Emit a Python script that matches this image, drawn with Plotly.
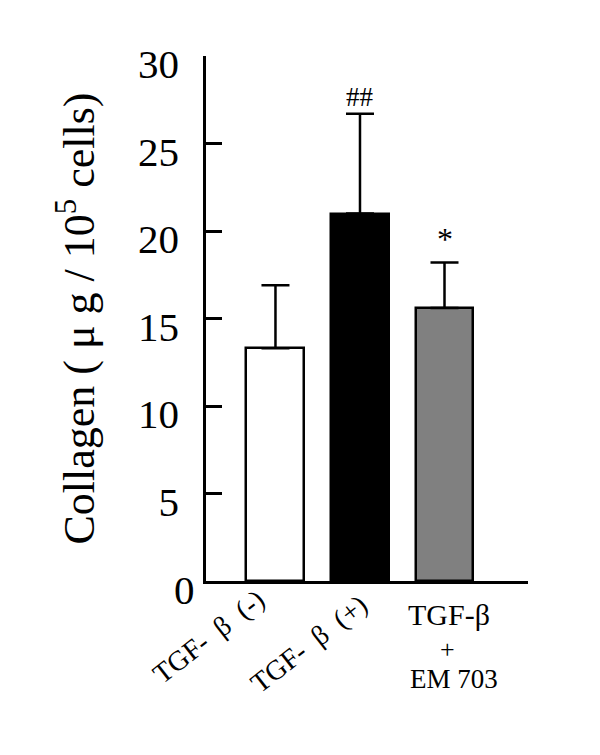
import plotly.graph_objects as go

categories = ["TGF-β (-)", "TGF-β (+)", "TGF-β + EM 703"]
means = [13.3, 21.0, 15.6]
errors = [3.6, 5.7, 2.6]
bar_colors = ["#ffffff", "#000000", "#808080"]
sig_marks = ["", "##", "*"]
ytick_vals = [5, 10, 15, 20, 25, 30]
ytick_text = ["5", "10", "15", "20", "25", "30"]

SERIF = "Liberation Serif, Times New Roman, serif"

fig = go.Figure()
fig.add_trace(go.Bar(
    x=list(range(len(categories))),
    y=means,
    width=0.686,
    marker=dict(color=bar_colors, line=dict(color="#000000", width=2.5)),
    error_y=dict(type="data", array=errors, arrayminus=[0] * len(errors),
                 symmetric=False, color="#000000", thickness=2.5, width=14),
    showlegend=False,
))

annotations = []
# significance marks
for i, (m, e, s) in enumerate(zip(means, errors, sig_marks)):
    if s:
        annotations.append(dict(
            x=i, y=m + e, xref="x", yref="y", text=s, showarrow=False,
            xanchor="center", yanchor="bottom",
            yshift=0 if s == "##" else 4,
            font=dict(family=SERIF, size=27 if s == "##" else 32, color="#000"),
        ))

# rotated category labels
rot_labels = ["TGF-\u2002β\u2002(-)", "TGF-\u2002β\u2002(+)"]
rot_shift = [(-67, -55), (-51, -62)]
for i, (t, (dx, dy)) in enumerate(zip(rot_labels, rot_shift)):
    annotations.append(dict(
        x=i, y=0, xref="x", yref="paper", text=t, showarrow=False,
        textangle=-38, xanchor="center", yanchor="middle",
        xshift=dx, yshift=dy,
        font=dict(family=SERIF, size=28, color="#000"),
    ))

# third label, stacked lines
third_lines = ["TGF-β", "+", "EM 703"]
third_sizes = [30, 26, 27]
third_shift = [(4, -33), (3, -68), (9, -98)]
for t, fs, (dx, dy) in zip(third_lines, third_sizes, third_shift):
    annotations.append(dict(
        x=2, y=0, xref="x", yref="paper", text=t, showarrow=False,
        xanchor="center", yanchor="middle", xshift=dx, yshift=dy,
        font=dict(family=SERIF, size=fs, color="#000"),
    ))

# zero tick label (offset as in reference)
annotations.append(dict(
    x=0, y=0, xref="paper", yref="y", text="0", showarrow=False,
    xanchor="center", yanchor="middle", xshift=-22, yshift=-9,
    font=dict(family=SERIF, size=41, color="#000"),
))

fig.update_layout(
    width=600, height=755,
    margin=dict(l=198, r=80, t=48, b=182),
    paper_bgcolor="white", plot_bgcolor="white",
    annotations=annotations,
    bargap=0,
)
fig.update_xaxes(
    range=[-0.822, 2.988], showticklabels=False, ticks="",
    showline=True, linecolor="#000", linewidth=3, showgrid=False, zeroline=False,
)
fig.update_yaxes(
    range=[0, 30], tickvals=ytick_vals, ticktext=ytick_text,
    ticks="inside", ticklen=16, tickwidth=2.5, tickcolor="#000",
    ticklabelstandoff=16, ticklabelshift=8,
    showline=True, linecolor="#000", linewidth=2.5, showgrid=False, zeroline=False,
    tickfont=dict(family=SERIF, size=41, color="#000"),
    title=dict(text="Collagen ( μ g / 10<sup>5</sup> cells)", standoff=30,
               font=dict(family=SERIF, size=44, color="#000")),
)

fig.write_html("out.html")
